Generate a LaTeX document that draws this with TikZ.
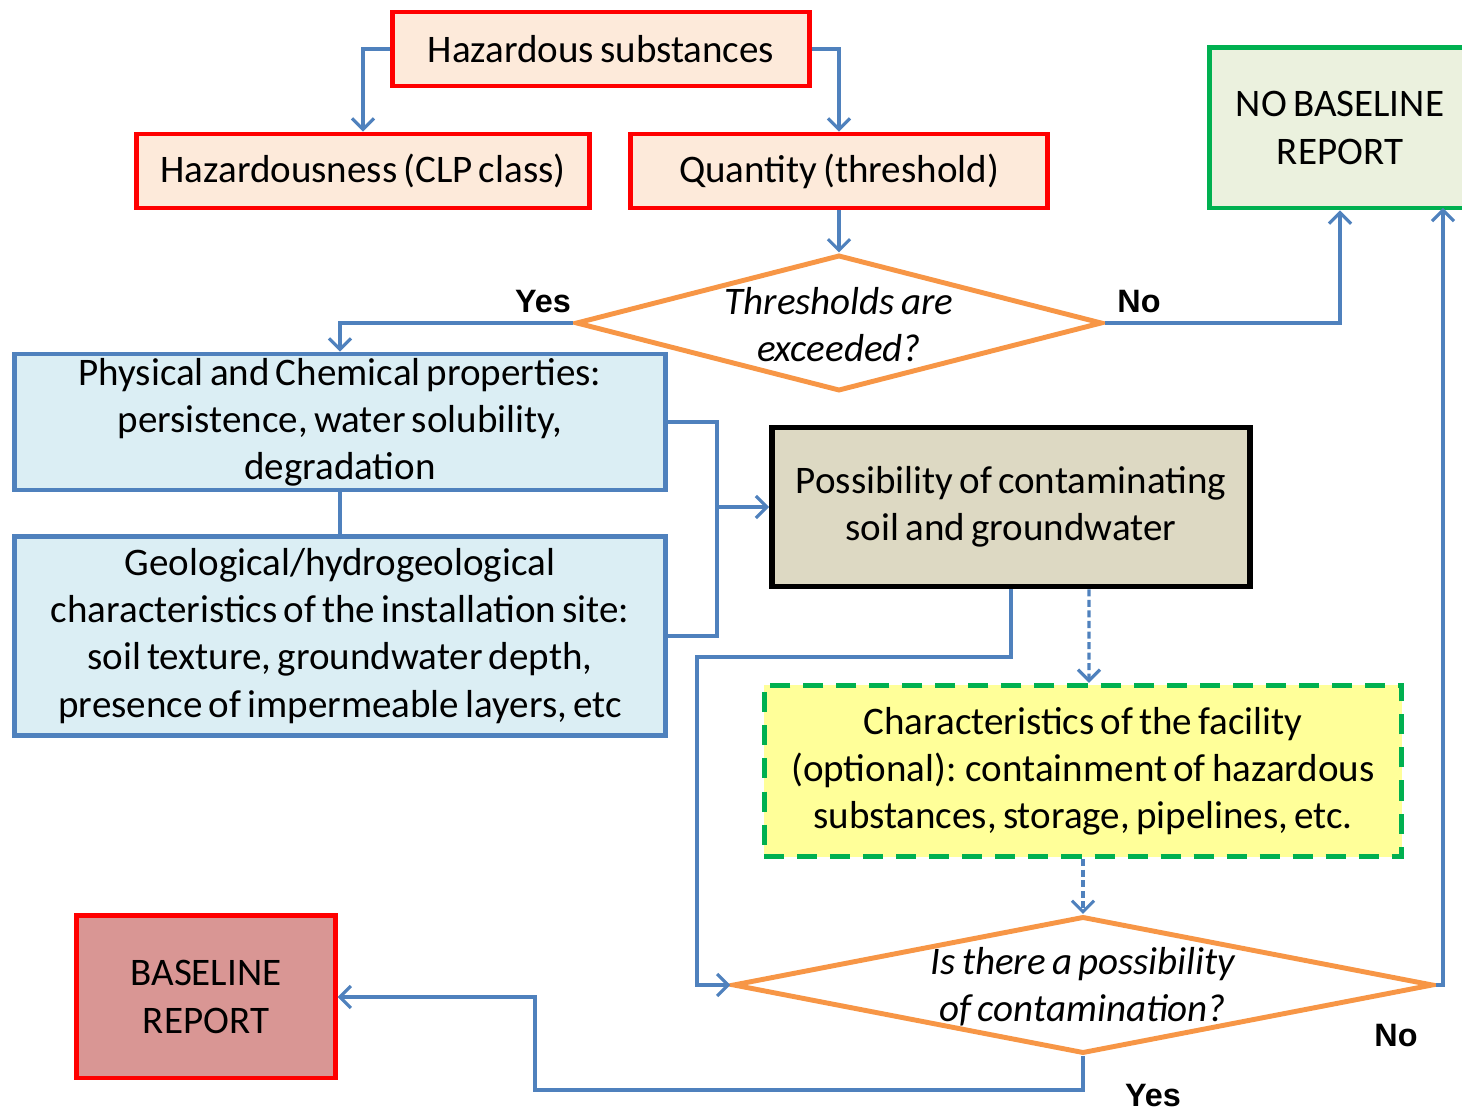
\documentclass[tikz,border=0pt]{standalone}
\usepackage{fontspec}
\setmainfont{Carlito}[WordSpace=0.7]
\newfontfamily\answerfont{Liberation Sans}
\usetikzlibrary{shapes.geometric,arrows.meta}

\definecolor{linkblue}{HTML}{4F81BD}
\definecolor{boxred}{HTML}{FF0000}
\definecolor{peach}{HTML}{FDEADA}
\definecolor{leafgreen}{HTML}{00B050}
\definecolor{palegreen}{HTML}{EBF1DE}
\definecolor{paleblue}{HTML}{DBEEF4}
\definecolor{qorange}{HTML}{F79646}
\definecolor{tan}{HTML}{DDD9C3}
\definecolor{lemon}{HTML}{FFFF99}
\definecolor{rosered}{HTML}{D99694}

\begin{document}
\begin{tikzpicture}[x=0.01cm, y=-0.01cm,
    font=\fontsize{11.1}{13.4}\selectfont,
    >={Straight Barb[length=1.1mm, width=2.2mm]},
    link/.style={draw=linkblue, line width=0.9pt},
    dotlink/.style={link, dash pattern=on 2pt off 1pt},
    redbox/.style={draw=boxred, fill=peach, line width=1.4pt, minimum height=0.74cm, inner sep=0pt},
    bluebox/.style={draw=linkblue, fill=paleblue, line width=1.3pt, minimum width=6.51cm, align=center, inner sep=0pt},
    decision/.style={diamond, draw=qorange, fill=white, line width=1.4pt, inner sep=0pt},
    question/.style={font=\fontsize{11.1}{13.4}\selectfont\itshape, align=center},
    answer/.style={font=\answerfont\bfseries\fontsize{9.2}{11}\selectfont}
]
    \useasboundingbox (0,0) rectangle (1462,1113);

    % Top of the chart
    \node[redbox, minimum width=4.17cm] (haz) at (601,49) {Hazardous substances};
    \node[redbox, minimum width=4.53cm] (clp) at (363,171) {Hazardousness (CLP class)};
    \node[redbox, minimum width=4.17cm] (qty) at (839,171) {Quantity (threshold)};
    \node[draw=leafgreen, fill=palegreen, line width=1.4pt, minimum width=2.6cm, minimum height=1.6cm,
          align=center] (nobase) at (1340,128) {NO BASELINE\\REPORT};

    % First question
    \node[decision, minimum width=5.26cm, minimum height=1.36cm] (d1) at (839,323) {};
    \node[question] (d1t) at ([yshift=-0.02cm]d1) {Thresholds are\\exceeded?};
    \node[answer] (yes1) at (543,302) {Yes};
    \node[answer] (no1) at (1139,302) {No};

    % Properties
    \node[bluebox, minimum height=1.36cm] (phys) at (340,422)
        {Physical and Chemical properties:\\persistence, water solubility,\\degradation};
    \node[bluebox, minimum height=1.99cm] (geo) at (340,636)
        {Geological/hydrogeological\\characteristics of the installation site:\\soil texture, groundwater depth,\\presence of impermeable layers, etc};
    \node[draw=black, fill=tan, line width=1.6pt, minimum width=4.78cm, minimum height=1.59cm,
          align=center, inner sep=0pt] (poss) at (1011,507)
        {Possibility of contaminating\\soil and groundwater};
    \node[draw=leafgreen, fill=lemon, line width=1.5pt, dash pattern=on 0.2cm off 0.13cm,
          minimum width=6.37cm, minimum height=1.71cm, align=center, inner sep=0pt] (char) at (1083,771)
        {Characteristics of the facility\\(optional): containment of hazardous\\substances, storage, pipelines, etc.};

    % Second question
    \node[decision, minimum width=7cm, minimum height=1.37cm] (d2) at (1083,985) {};
    \node[question] (d2t) at ([yshift=-0.02cm]d2) {Is there a possibility\\of contamination?};
    \node[answer] (no2) at (1396,1036) {No};
    \node[answer] (yes2) at (1153,1096) {Yes};

    \node[draw=boxred, fill=rosered, line width=1.4pt, minimum width=2.58cm, minimum height=1.62cm,
          align=center, inner sep=0pt] (base) at (206,997) {BASELINE\\REPORT};

    % Turning points
    \coordinate (bus) at (717,507);
    \coordinate (turn) at (697,657);
    \coordinate (ret) at (1443,208);
    \coordinate (low) at (535,1090);

    % Connectors
    \draw[link,->] (haz.west) -| (clp.north);
    \draw[link,->] (haz.east) -| (qty.north);
    \draw[link,->] (qty.south) -- (d1.north);
    \draw[link,->] (d1.west) -| (phys.north);
    \draw[link,->] (d1.east) -| (nobase.south);
    \draw[link] (phys.south) -- (geo.north);
    \draw[link] (phys.east) -| (bus) |- (geo.east);
    \draw[link,->] (bus) -- (poss.west);
    \draw[link,->] (poss.south) |- (turn) |- (d2.west);
    \draw[dotlink,->] ([xshift=0.78cm]poss.south) -- ([xshift=0.06cm]char.north);
    \draw[dotlink,->] (char.south) -- (d2.north);
    \draw[link,->] (d2.east) -| (ret);
    \draw[link,->] (d2.south) |- (low) |- (base.east);
\end{tikzpicture}
\end{document}
